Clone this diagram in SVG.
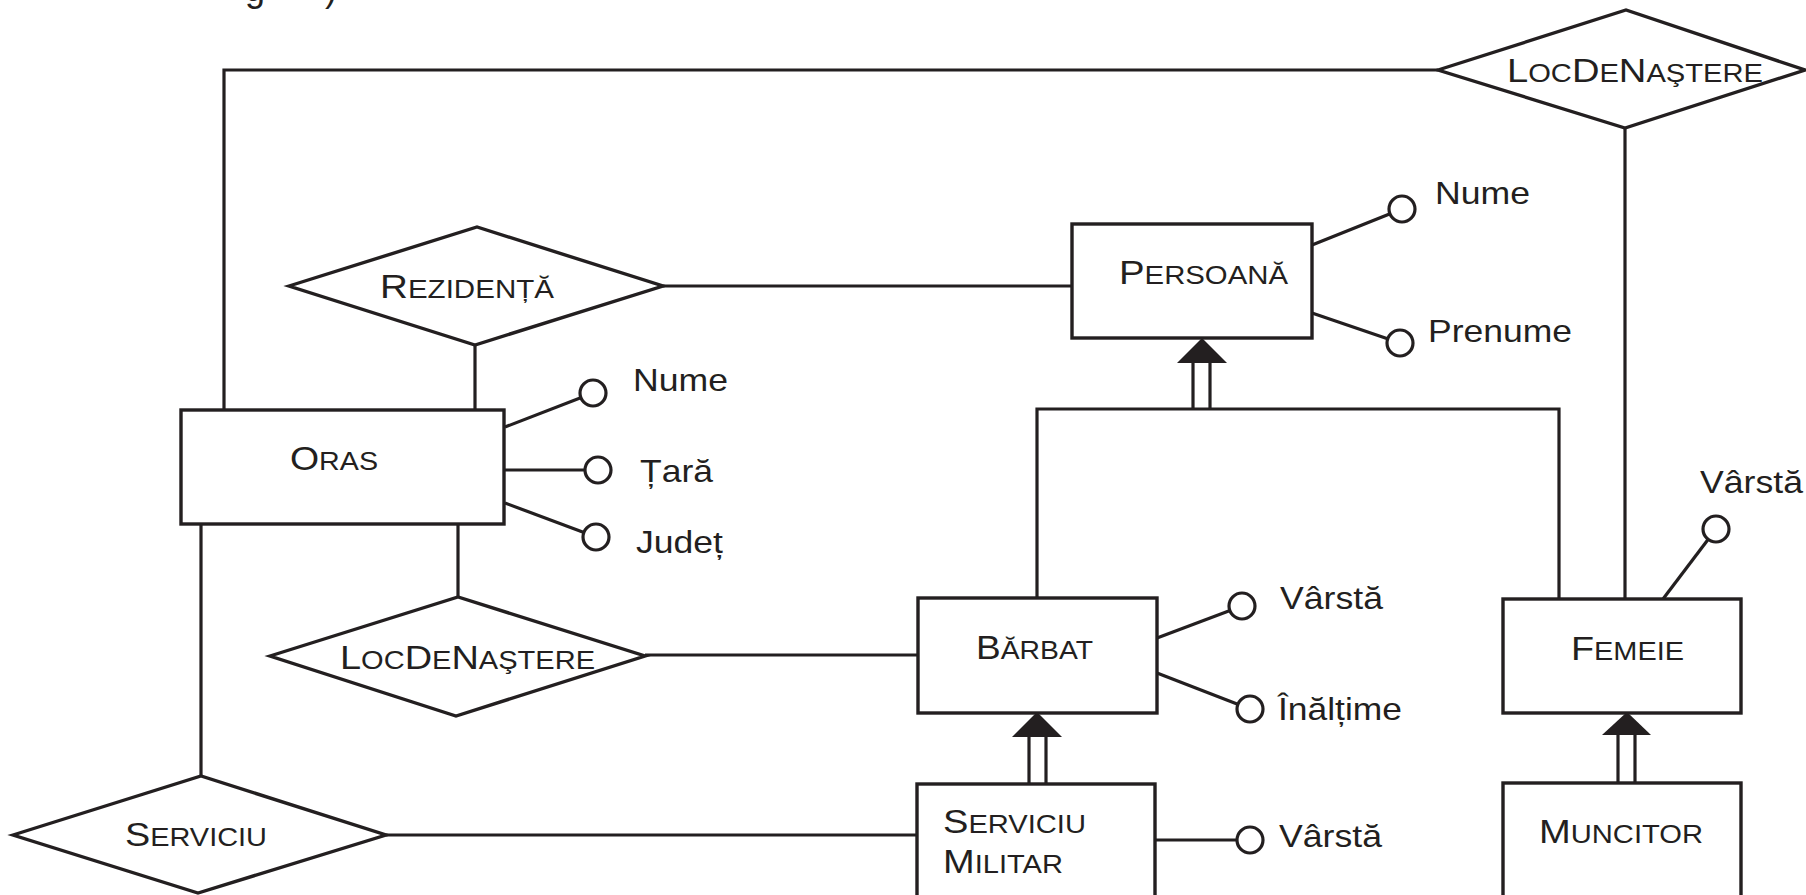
<svg xmlns="http://www.w3.org/2000/svg" width="1806" height="895" viewBox="0 0 1806 895">
  <style>
    .ln { fill: none; stroke: #231f20; stroke-width: 3.2; stroke-linecap: butt; stroke-linejoin: miter; }
    .shape { fill: #ffffff; stroke: #231f20; stroke-width: 3.4; }
    .dot { fill: #ffffff; stroke: #231f20; stroke-width: 3.2; }
    .tri { fill: #231f20; stroke: none; }
    text { font-family: "Liberation Sans", Arial, sans-serif; fill: #231f20; }
    .ent { font-size: 26px; }
    .cap { font-size: 34px; }
    .attr { font-size: 32px; }
  </style>

  <rect x="0" y="0" width="1806" height="895" fill="#ffffff"/>

  <!-- caption fragment at the top edge -->
  <text x="245" y="0.5" style="font-size:36px">g</text>
  <text x="325" y="0.5" style="font-size:36px">)</text>

  <!-- connectors -->
  <g id="connectors">
    <polyline class="ln" points="224,410 224,70 1438,70"/>
    <line class="ln" x1="1625" y1="128" x2="1625" y2="599"/>
    <line class="ln" x1="663" y1="286" x2="1072" y2="286"/>
    <line class="ln" x1="475" y1="345" x2="475" y2="410"/>
    <line class="ln" x1="458" y1="524" x2="458" y2="597"/>
    <line class="ln" x1="645" y1="655" x2="918" y2="655"/>
    <line class="ln" x1="201" y1="524" x2="201" y2="776"/>
    <line class="ln" x1="386" y1="835" x2="917" y2="835"/>

    <!-- generalisation Persoană <- Bărbat / Femeie -->
    <polyline class="ln" points="1037,598 1037,409 1559,409 1559,599"/>
    <line class="ln" x1="1193" y1="362" x2="1193" y2="409"/>
    <line class="ln" x1="1210" y1="362" x2="1210" y2="409"/>
    <polygon class="tri" points="1202,338 1177,363 1227,363"/>

    <!-- Bărbat <- Serviciu Militar -->
    <line class="ln" x1="1029" y1="736" x2="1029" y2="784"/>
    <line class="ln" x1="1046" y1="736" x2="1046" y2="784"/>
    <polygon class="tri" points="1037,712 1012,737 1062,737"/>

    <!-- Femeie <- Muncitor -->
    <line class="ln" x1="1618" y1="734" x2="1618" y2="783"/>
    <line class="ln" x1="1635" y1="734" x2="1635" y2="783"/>
    <polygon class="tri" points="1627,712 1602,735 1651,735"/>

    <!-- attribute stems -->
    <line class="ln" x1="1312" y1="245" x2="1402" y2="209"/>
    <line class="ln" x1="1312" y1="313" x2="1400" y2="343"/>
    <line class="ln" x1="505" y1="427" x2="593" y2="393"/>
    <line class="ln" x1="504" y1="470" x2="598" y2="470"/>
    <line class="ln" x1="505" y1="503" x2="596" y2="537"/>
    <line class="ln" x1="1157" y1="638" x2="1242" y2="606"/>
    <line class="ln" x1="1157" y1="673" x2="1250" y2="709"/>
    <line class="ln" x1="1155" y1="840" x2="1250" y2="840"/>
    <line class="ln" x1="1663" y1="599" x2="1716" y2="529"/>
  </g>

  <!-- relationships -->
  <g id="rel-locdenastere-top">
    <polygon class="shape" points="1438,70 1626,10 1805,70 1625,128"/>
    <text class="ent" x="1507" y="82" textLength="256" lengthAdjust="spacingAndGlyphs"><tspan class="cap">L</tspan>OC<tspan class="cap">D</tspan>E<tspan class="cap">N</tspan>AŞTERE</text>
  </g>

  <g id="rel-rezidenta">
    <polygon class="shape" points="289,286 477,227 663,286 475,345"/>
    <text class="ent" x="380" y="298" textLength="174" lengthAdjust="spacingAndGlyphs"><tspan class="cap">R</tspan>EZIDENȚĂ</text>
  </g>

  <g id="rel-locdenastere">
    <polygon class="shape" points="270,656 458,597 645,656 456,716"/>
    <text class="ent" x="340" y="669" textLength="255" lengthAdjust="spacingAndGlyphs"><tspan class="cap">L</tspan>OC<tspan class="cap">D</tspan>E<tspan class="cap">N</tspan>AŞTERE</text>
  </g>

  <g id="rel-serviciu">
    <polygon class="shape" points="13,835 201,776 386,835 198,893"/>
    <text class="ent" x="125" y="846" textLength="142" lengthAdjust="spacingAndGlyphs"><tspan class="cap">S</tspan>ERVICIU</text>
  </g>

  <!-- entities -->
  <g id="ent-persoana">
    <rect class="shape" x="1072" y="224" width="240" height="114"/>
    <text class="ent" x="1119" y="284" textLength="169" lengthAdjust="spacingAndGlyphs"><tspan class="cap">P</tspan>ERSOANĂ</text>
  </g>

  <g id="ent-oras">
    <rect class="shape" x="181" y="410" width="323" height="114"/>
    <text class="ent" x="290" y="470" textLength="88" lengthAdjust="spacingAndGlyphs"><tspan class="cap">O</tspan>RAS</text>
  </g>

  <g id="ent-barbat">
    <rect class="shape" x="918" y="598" width="239" height="115"/>
    <text class="ent" x="976" y="659" textLength="117" lengthAdjust="spacingAndGlyphs"><tspan class="cap">B</tspan>ĂRBAT</text>
  </g>

  <g id="ent-femeie">
    <rect class="shape" x="1503" y="599" width="238" height="114"/>
    <text class="ent" x="1571" y="660" textLength="113" lengthAdjust="spacingAndGlyphs"><tspan class="cap">F</tspan>EMEIE</text>
  </g>

  <g id="ent-serviciu-militar">
    <rect class="shape" x="917" y="784" width="238" height="130"/>
    <text class="ent" x="943" y="833" textLength="143" lengthAdjust="spacingAndGlyphs"><tspan class="cap">S</tspan>ERVICIU</text>
    <text class="ent" x="943" y="873" textLength="120" lengthAdjust="spacingAndGlyphs"><tspan class="cap">M</tspan>ILITAR</text>
  </g>

  <g id="ent-muncitor">
    <rect class="shape" x="1503" y="783" width="238" height="130"/>
    <text class="ent" x="1539" y="843" textLength="164" lengthAdjust="spacingAndGlyphs"><tspan class="cap">M</tspan>UNCITOR</text>
  </g>

  <!-- attributes -->
  <g id="attr-persoana-nume">
    <circle class="dot" cx="1402" cy="209" r="13"/>
    <text class="attr" x="1435" y="204" textLength="95" lengthAdjust="spacingAndGlyphs">Nume</text>
  </g>
  <g id="attr-persoana-prenume">
    <circle class="dot" cx="1400" cy="343" r="13"/>
    <text class="attr" x="1428" y="342" textLength="144" lengthAdjust="spacingAndGlyphs">Prenume</text>
  </g>
  <g id="attr-oras-nume">
    <circle class="dot" cx="593" cy="393" r="13"/>
    <text class="attr" x="633" y="391" textLength="95" lengthAdjust="spacingAndGlyphs">Nume</text>
  </g>
  <g id="attr-oras-tara">
    <circle class="dot" cx="598" cy="470" r="13"/>
    <text class="attr" x="640" y="482" textLength="73" lengthAdjust="spacingAndGlyphs">Țară</text>
  </g>
  <g id="attr-oras-judet">
    <circle class="dot" cx="596" cy="537" r="13"/>
    <text class="attr" x="636" y="553" textLength="87" lengthAdjust="spacingAndGlyphs">Județ</text>
  </g>
  <g id="attr-barbat-varsta">
    <circle class="dot" cx="1242" cy="606" r="13"/>
    <text class="attr" x="1280" y="609" textLength="103" lengthAdjust="spacingAndGlyphs">Vârstă</text>
  </g>
  <g id="attr-barbat-inaltime">
    <circle class="dot" cx="1250" cy="709" r="13"/>
    <text class="attr" x="1278" y="720" textLength="124" lengthAdjust="spacingAndGlyphs">Înălțime</text>
  </g>
  <g id="attr-serviciu-militar-varsta">
    <circle class="dot" cx="1250" cy="840" r="13"/>
    <text class="attr" x="1279" y="847" textLength="103" lengthAdjust="spacingAndGlyphs">Vârstă</text>
  </g>
  <g id="attr-femeie-varsta">
    <circle class="dot" cx="1716" cy="529" r="13"/>
    <text class="attr" x="1700" y="493" textLength="103" lengthAdjust="spacingAndGlyphs">Vârstă</text>
  </g>
</svg>
